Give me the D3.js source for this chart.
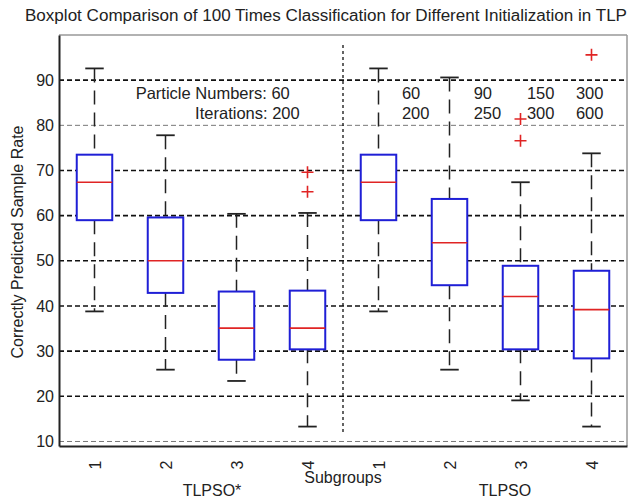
<!DOCTYPE html>
<html>
<head>
<meta charset="utf-8">
<script src="https://cdn.jsdelivr.net/npm/d3@7/dist/d3.min.js"></script>
<style>
  body { margin: 0; background: #fff; }
  text { font-family: 'Liberation Sans', Arial, sans-serif; fill: #222; }
</style>
</head>
<body>
<script>
const title = 'Boxplot Comparison of 100 Times Classification for Different Initialization in TLP'
const subgroups = ['1', '2', '3', '4', '1', '2', '3', '4']
const groupNames = ['TLPSO*', 'TLPSO']
const upperWhisker = [92.6, 77.8, 60.4, 60.6, 92.6, 90.6, 67.4, 73.8]
const q3 = [73.5, 59.6, 43.2, 43.4, 73.5, 63.7, 48.9, 47.8]
const median = [67.4, 50, 35.1, 35.1, 67.4, 54, 42.1, 39.2]
const q1 = [59, 42.9, 28.1, 30.4, 59, 44.6, 30.4, 28.4]
const lowerWhisker = [38.8, 25.9, 23.4, 13.3, 38.8, 25.9, 19.1, 13.3]
const outliers = [[], [], [], [69.6, 65.3], [], [], [81.4, 76.6], [95.6]]
const yTicks = [10, 20, 30, 40, 50, 60, 70, 80, 90]
const particleNumbers = ['60', '90', '150', '300']
const iterations = ['200', '250', '300', '600']

const FONT = "'Liberation Sans', Arial, sans-serif"

function main ({ w, h }) {
  const svg = d3.select('body')
    .append('svg')
    .attr('width', w)
    .attr('height', h)

  const x = d3.scaleLinear().domain([0.5, 8.5]).range([59, 627])
  const y = d3.scaleLinear().domain([9, 100]).range([446, 35])
  const boxW = x(1.25) - x(1)
  const capW = x(1.13) - x(1)

  svg.append('text')
    .attr('x', 25)
    .attr('y', 21)
    .attr('font-size', 16)
    .attr('textLength', 602)
    .attr('lengthAdjust', 'spacingAndGlyphs')
    .text(title)

  // frame
  svg.append('line').attr('x1', x(0.5)).attr('x2', x(8.5)).attr('y1', y(100)).attr('y2', y(100))
    .attr('stroke', '#999').attr('stroke-width', 1.5)
  svg.append('line').attr('x1', x(8.5)).attr('x2', x(8.5)).attr('y1', y(100)).attr('y2', y(9))
    .attr('stroke', '#999').attr('stroke-width', 1.5)

  // grid
  svg.append('g')
    .selectAll('line')
    .data(yTicks)
    .join('line')
    .attr('x1', x(0.5))
    .attr('x2', x(8.5))
    .attr('y1', d => y(d))
    .attr('y2', d => y(d))
    .attr('stroke', d => (d === 80 || d === 10) ? '#777' : '#111')
    .attr('stroke-width', d => (d === 80 || d === 10) ? 1 : 1.6)
    .attr('stroke-dasharray', '5,3')

  // separator between the two groups
  svg.append('line')
    .attr('x1', x(4.5)).attr('x2', x(4.5))
    .attr('y1', y(97.8)).attr('y2', y(11.8))
    .attr('stroke', '#111')
    .attr('stroke-width', 1.3)
    .attr('stroke-dasharray', '3,3')

  const yAxis = d3.axisLeft(y).tickValues(yTicks).tickSize(0).tickPadding(5)
  const gy = svg.append('g').attr('transform', `translate(${x(0.5)},0)`).call(yAxis)
  gy.select('.domain').attr('stroke', '#222').attr('stroke-width', 2)
  gy.selectAll('text').attr('font-size', 16).attr('font-family', FONT).attr('fill', '#222')

  const xAxis = d3.axisBottom(x).tickValues(d3.range(1, 9)).tickSize(0).tickFormat((d, i) => subgroups[i])
  const gx = svg.append('g').attr('transform', `translate(0,${y(9)})`).call(xAxis)
  gx.select('.domain').attr('stroke', '#222').attr('stroke-width', 2)
  gx.selectAll('text')
    .attr('font-size', 16)
    .attr('font-family', FONT)
    .attr('fill', '#222')
    .attr('transform', 'rotate(-90)')
    .attr('text-anchor', 'middle')
    .attr('dy', '0.35em')
    .attr('x', -19)
    .attr('y', 0)

  const boxes = svg.append('g')
    .selectAll('g')
    .data(subgroups.map((s, i) => i))
    .join('g')

  // whiskers
  boxes.append('line')
    .attr('x1', i => x(i + 1)).attr('x2', i => x(i + 1))
    .attr('y1', i => y(upperWhisker[i])).attr('y2', i => y(q3[i]))
    .attr('stroke', '#222').attr('stroke-width', 1.5).attr('stroke-dasharray', '14,8')
  boxes.append('line')
    .attr('x1', i => x(i + 1)).attr('x2', i => x(i + 1))
    .attr('y1', i => y(q1[i])).attr('y2', i => y(lowerWhisker[i]))
    .attr('stroke', '#222').attr('stroke-width', 1.5).attr('stroke-dasharray', '14,8')

  // caps
  boxes.append('line')
    .attr('x1', i => x(i + 1) - capW).attr('x2', i => x(i + 1) + capW)
    .attr('y1', i => y(upperWhisker[i])).attr('y2', i => y(upperWhisker[i]))
    .attr('stroke', '#222').attr('stroke-width', 1.8)
  boxes.append('line')
    .attr('x1', i => x(i + 1) - capW).attr('x2', i => x(i + 1) + capW)
    .attr('y1', i => y(lowerWhisker[i])).attr('y2', i => y(lowerWhisker[i]))
    .attr('stroke', '#222').attr('stroke-width', 1.8)

  boxes.append('rect')
    .attr('x', i => x(i + 1) - boxW)
    .attr('y', i => y(q3[i]))
    .attr('width', boxW * 2)
    .attr('height', i => y(q1[i]) - y(q3[i]))
    .attr('fill', 'white')
    .attr('stroke', '#1f1fd6')
    .attr('stroke-width', 2)

  boxes.append('line')
    .attr('x1', i => x(i + 1) - boxW).attr('x2', i => x(i + 1) + boxW)
    .attr('y1', i => y(median[i])).attr('y2', i => y(median[i]))
    .attr('stroke', '#e02424').attr('stroke-width', 1.6)

  // outliers
  const pts = outliers.flatMap((arr, i) => arr.map(v => ({ i, v })))
  svg.append('g')
    .selectAll('path')
    .data(pts)
    .join('path')
    .attr('d', d => `M${x(d.i + 1) - 6},${y(d.v)}h12M${x(d.i + 1)},${y(d.v) - 6}v12`)
    .attr('stroke', '#e02424')
    .attr('stroke-width', 1.6)

  // annotations
  svg.append('text')
    .attr('x', x(3.75)).attr('y', y(87.2) + 6)
    .attr('text-anchor', 'end').attr('font-size', 16.5)
    .text('Particle Numbers: ' + particleNumbers[0])
  svg.append('text')
    .attr('x', x(3.89)).attr('y', y(82.8) + 6)
    .attr('text-anchor', 'end').attr('font-size', 16.5)
    .text('Iterations: ' + iterations[0])

  const colX = [5.33, 6.34, 7.09, 7.78]
  particleNumbers.forEach((p, k) => {
    svg.append('text').attr('x', x(colX[k])).attr('y', y(87.2) + 6).attr('font-size', 16.5).text(p)
    svg.append('text').attr('x', x(colX[k])).attr('y', y(82.8) + 6).attr('font-size', 16.5).text(iterations[k])
  })

  svg.append('text')
    .attr('x', x(4.5)).attr('y', 483)
    .attr('text-anchor', 'middle').attr('font-size', 16)
    .text('Subgroups')

  svg.append('text').attr('x', 212).attr('y', 496).attr('text-anchor', 'middle').attr('font-size', 16).text(groupNames[0])
  svg.append('text').attr('x', 505).attr('y', 496).attr('text-anchor', 'middle').attr('font-size', 16).text(groupNames[1])

  svg.append('text')
    .attr('transform', 'translate(23,242) rotate(-90)')
    .attr('text-anchor', 'middle')
    .attr('font-size', 16)
    .text('Correctly Predicted Sample Rate')
}

main({ w: 628, h: 501 })
</script>
</body>
</html>
